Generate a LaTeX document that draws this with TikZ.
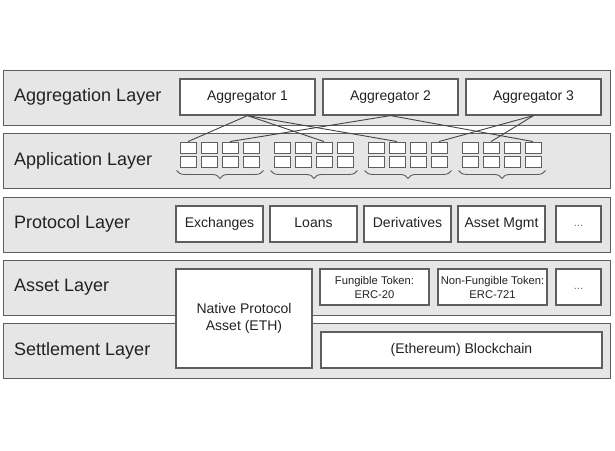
\documentclass[tikz,border=0pt]{standalone}
\usepackage{fontspec}
\setmainfont{Liberation Sans}
\usetikzlibrary{decorations.pathreplacing}
\definecolor{bandfill}{HTML}{E6E6E6}
\definecolor{edge}{HTML}{5E5E5E}
\definecolor{txt}{HTML}{222222}
\begin{document}
\begin{tikzpicture}[x=1pt,y=-1pt,
  band/.style={draw=edge, fill=bandfill, line width=1.3pt, minimum width=607pt, minimum height=55pt, anchor=north west, inner sep=0pt},
  lbl/.style={anchor=west, font=\fontsize{18}{20}\selectfont, text=txt, inner sep=0pt, text height=13pt, text depth=4pt},
  box/.style={draw=edge, fill=white, line width=1.2pt, minimum height=36pt, inner sep=0pt, font=\fontsize{14}{17}\selectfont, text=txt, align=center},
  onebox/.style={box, text height=10.5pt, text depth=3pt},
  smallbox/.style={box, font=\fontsize{11.2}{14}\selectfont},
  dots/.style={box, minimum width=45pt, font=\fontsize{11}{13}\selectfont, text=black!60, text height=7pt, text depth=2pt},
  sq/.style={draw=edge, fill=white, line width=0.9pt, minimum width=16pt, minimum height=11pt, inner sep=0pt},
  link/.style={draw=txt!85, line width=0.9pt},
  brc/.style={draw=edge, line width=0.9pt, decoration={brace, mirror, amplitude=8pt}, decorate}]

\useasboundingbox (0,0) rectangle (615,450);
\fill[white] (0,0) rectangle (615,450);

% bands
\node[band] (agg) at (3,70) {};
\node[band] (app) at (3,133) {};
\node[band] (pro) at (3,197) {};
\node[band] (ast) at (3,260) {};
\node[band] (set) at (3,323) {};

% labels
\node[lbl] (aggl) at (14,97) {Aggregation Layer};
\node[lbl] (appl) at (14,160.5) {Application Layer};
\node[lbl] (prol) at (14,224) {Protocol Layer};
\node[lbl] (astl) at (14,287) {Asset Layer};
\node[lbl] (setl) at (14,350.5) {Settlement Layer};

% aggregators
\node[onebox, minimum width=135pt] (a1) at (247.5,97) {Aggregator 1};
\node[onebox, minimum width=135pt] (a2) at (390.5,97) {Aggregator 2};
\node[onebox, minimum width=135pt] (a3) at (533.5,97) {Aggregator 3};

% application squares
\foreach \g [evaluate=\g as \gx using {188+94*(\g-1)}] in {1,...,4}{
  \foreach \i [evaluate=\i as \sx using {\gx+21*(\i-1)}] in {1,...,4}{
    \node[sq] (s-\g-1-\i) at (\sx,147.5) {};
    \node[sq] (s-\g-2-\i) at (\sx,161.5) {};
  }
  \draw[brc] ([xshift=-3pt,yshift=-3pt]s-\g-2-1.south west) -- ([xshift=4pt,yshift=-3pt]s-\g-2-4.south east);
}

% links
\draw[link] (a1.south) -- (s-1-1-1.north);
\draw[link] (a1.south) -- (s-2-1-3.north);
\draw[link] (a1.south) -- (s-3-1-2.north);
\draw[link] (a2.south) -- (s-1-1-3.north);
\draw[link] (a2.south) -- (s-4-1-4.north);
\draw[link] (a3.south) -- (s-3-1-4.north);
\draw[link] (a3.south) -- (s-4-1-2.north);

% protocol
\node[onebox, minimum width=87pt] (p1) at (219.5,224) {Exchanges};
\node[onebox, minimum width=87pt] (p2) at (313.5,224) {Loans};
\node[onebox, minimum width=87pt] (p3) at (407.5,224) {Derivatives};
\node[onebox, minimum width=87pt] (p4) at (501.5,224) {Asset Mgmt};
\node[dots] (p5) at (578.5,224) {...};

% asset + settlement
\node[box, minimum width=136pt, minimum height=99pt] (nat) at (244,318.5) {Native Protocol\\Asset (ETH)};
\node[smallbox, minimum width=109pt] (ft) at (374.5,287) {Fungible Token:\\ERC-20};
\node[smallbox, minimum width=109pt] (nft) at (492.5,287) {Non-Fungible Token:\\ERC-721};
\node[dots] (ad) at (578.5,287) {...};
\node[onebox, minimum width=281pt] (bc) at (461.5,350) {(Ethereum) Blockchain};
\end{tikzpicture}
\end{document}
